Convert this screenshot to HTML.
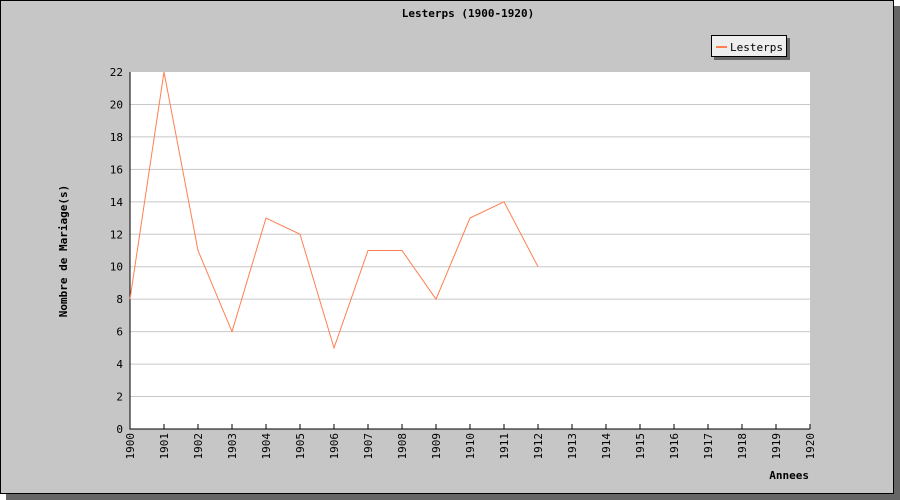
<!DOCTYPE html>
<html><head><meta charset="utf-8"><style>
body{margin:0;width:900px;height:500px;background:#fff;overflow:hidden}
svg{display:block}
text{font-family:"DejaVu Sans Mono","Liberation Mono",monospace;font-size:11px;fill:#000}
</style></head><body>
<svg width="900" height="500">
<rect x="6" y="6" width="894" height="494" fill="#666"/>
<rect x="0.5" y="0.5" width="893" height="493" fill="#c6c6c6" stroke="#000"/>
<text x="468" y="17" text-anchor="middle" font-weight="bold">Lesterps (1900-1920)</text>
<rect x="130" y="72" width="680" height="357" fill="#fff"/>
<g id="grid"></g><g id="axes"></g><g id="series"></g>
<text transform="translate(67,251) rotate(-90)" text-anchor="middle" font-weight="bold">Nombre de Mariage(s)</text>
<text x="809" y="479" text-anchor="end" font-weight="bold">Annees</text>
<g>
<rect x="714" y="38" width="76" height="22" fill="#666"/>
<rect x="711.5" y="35.5" width="75" height="21" fill="#eee" stroke="#000"/>
<line x1="716" y1="47" x2="727" y2="47" stroke="#ff7f50" stroke-width="2"/>
<text x="730" y="51">Lesterps</text>
</g>
</svg>
<script>
const years=[1900,1901,1902,1903,1904,1905,1906,1907,1908,1909,1910,1911,1912,1913,1914,1915,1916,1917,1918,1919,1920];
const dataYears=[1900,1901,1902,1903,1904,1905,1906,1907,1908,1909,1910,1911,1912];
const values=[8,22,11,6,13,12,5,11,11,8,13,14,10];
const yTicks=[0,2,4,6,8,10,12,14,16,18,20,22];
const NS="http://www.w3.org/2000/svg";
const L=130,R=810,T=72,B=429;
const x=y=>L+(y-1900)/20*(R-L);
const yS=v=>B-v/22*(B-T);
function mk(tag,attrs,parent){const e=document.createElementNS(NS,tag);for(const k in attrs)e.setAttribute(k,attrs[k]);document.getElementById(parent).appendChild(e);return e;}
yTicks.forEach(v=>{
 if(v>0&&v<22){const g=mk('line',{x1:L,x2:R,y1:yS(v),y2:yS(v),stroke:'#c8c8c8'},'grid');
 
 }
 const t=mk('text',{x:L-7,y:yS(v)+4,'text-anchor':'end'},'axes');t.textContent=v;
 
 
});
years.forEach(yr=>{
 const tk=mk('line',{x1:x(yr),x2:x(yr),y1:B,y2:B-5,stroke:'#000'},'axes');
 
 
 const t=mk('text',{transform:`translate(${x(yr)+4},${B+4}) rotate(-90)`,'text-anchor':'end'},'axes');t.textContent=yr;
 
 
});
const ax=mk('path',{d:`M${L},${T}V${B}H${R}`,fill:'none',stroke:'#000'},'axes');


const line=mk('polyline',{points:dataYears.map((yr,i)=>x(yr)+','+yS(values[i])).join(' '),fill:'none',stroke:'#ff7f50'},'series');


</script>
</body></html>
